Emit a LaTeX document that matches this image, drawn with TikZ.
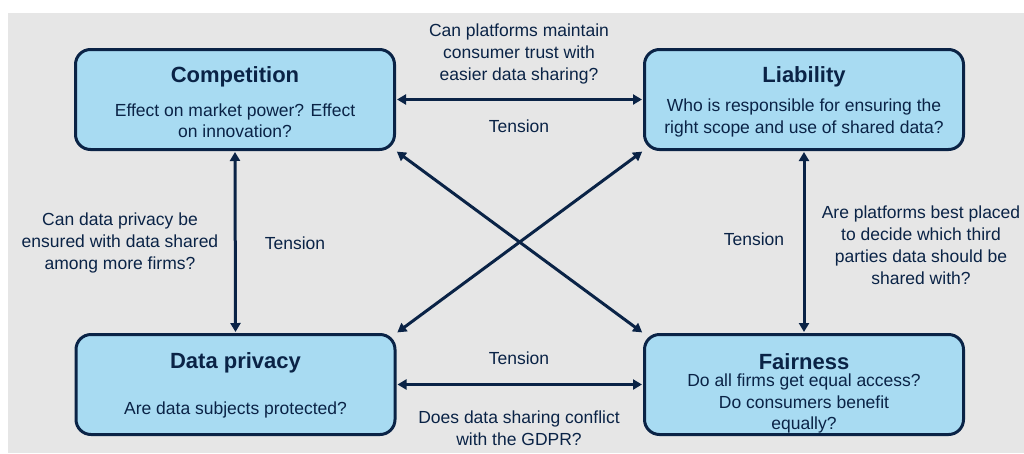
\documentclass[tikz,border=0pt]{standalone}
\usepackage{fontspec}
\setmainfont{Liberation Sans}
\usetikzlibrary{arrows.meta}
\definecolor{navy}{RGB}{10,35,70}
\definecolor{boxfill}{RGB}{168,219,242}
\definecolor{panel}{RGB}{230,230,230}
\begin{document}
\begin{tikzpicture}[x=1pt,y=-1pt,
  topic/.style={draw=navy, fill=boxfill, line width=3pt, rounded corners=15pt,
    minimum width=319pt, minimum height=100pt, inner sep=0pt, outer sep=1.5pt},
  heading/.style={text=navy, font=\fontsize{22}{25}\selectfont\bfseries, inner sep=0pt},
  body/.style={text=navy, font=\fontsize{17.5}{21.5}\selectfont, align=center, inner sep=0pt},
  note/.style={text=navy, font=\fontsize{17.5}{22}\selectfont, align=center, inner sep=0pt},
  link/.style={draw=navy, line width=3pt, {Triangle[length=9pt,width=10pt]}-{Triangle[length=9pt,width=10pt]}, shorten <=1pt, shorten >=1pt}
]
\useasboundingbox (0,0) rectangle (1024,453);
\fill[white] (0,0) rectangle (1024,453);
\fill[panel] (8,13) rectangle (1024,453);

% the four topics
\node[topic] (comp) at (235,99.5) {};
\node[topic] (liab) at (804,99.5) {};
\node[topic] (priv) at (235.5,384.5) {};
\node[topic] (fair) at (804,384.5) {};

\node[heading] (compT) at (235,77) {Competition};
\node[body] (compB) at (235,120.5) {Effect on market power? Effect\\on innovation?};

\node[heading] (liabT) at (804,77) {Liability};
\node[body] (liabB) at (804,118) {Who is responsible for ensuring the\\right scope and use of shared data?};

\node[heading] (privT) at (235.5,363) {Data privacy};
\node[body] (privB) at (235.5,410) {Are data subjects protected?};

\node[heading] (fairT) at (804,362) {Fairness};
\node[body] (fairB) at (804,403.5) {Do all firms get equal access?\\Do consumers benefit\\equally?};

% tensions between topics
\draw[link] (comp.east) -- (liab.west);
\draw[link] (priv.east) -- (fair.west);
\draw[link] (comp.south) -- (priv.north);
\draw[link] (liab.south) -- (fair.north);
\draw[link] (comp.south east) -- (fair.north west);
\draw[link] (liab.south west) -- (priv.north east);

% labels
\node[note] (qTop) at (519,54) {Can platforms maintain\\consumer trust with\\easier data sharing?};
\node[note] (tTop) at (519,126) {Tension};
\node[note] (qLeft) at (120,243) {Can data privacy be\\ensured with data shared\\among more firms?};
\node[note] (tLeft) at (295,243) {Tension};
\node[note] (tRight) at (754,239) {Tension};
\node[note] (qRight) at (921,245.5) {Are platforms best placed\\to decide which third\\parties data should be\\shared with?};
\node[note] (tBot) at (519,358) {Tension};
\node[note] (qBot) at (519,428.5) {Does data sharing conflict\\with the GDPR?};
\end{tikzpicture}
\end{document}
